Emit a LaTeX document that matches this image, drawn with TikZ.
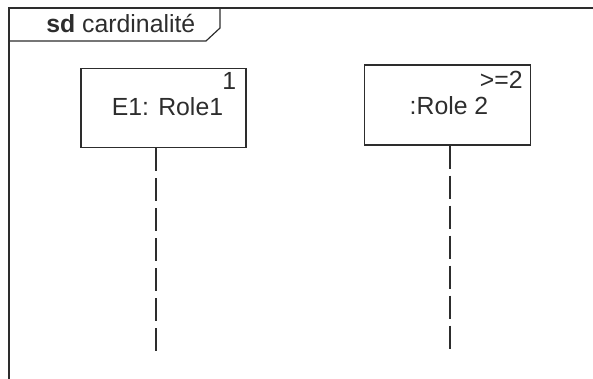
\documentclass[tikz,border=0pt]{standalone}
\usepackage{fontspec}
\setmainfont{Liberation Sans}
\usepackage{tikz}
\usetikzlibrary{positioning}
\definecolor{ink}{RGB}{45,45,45}

\begin{document}
\begin{tikzpicture}[x=0.5pt,y=-0.5pt,font=\fontsize{12.4}{14}\selectfont,ink]
  \useasboundingbox (0,0) rectangle (593,379);
  \draw[line width=0.6pt] (593,8)--(9,8)--(9,379);
  \draw[line width=0.6pt] (9,41)--(206,41)--(220,28)--(220,8);
  \node[anchor=base west,inner sep=0] (T) at (46,33) {\textbf{sd} cardinalité};
  \node[draw,line width=0.6pt,minimum width=82.5pt,minimum height=39.5pt,inner sep=0] (R1) at (163.5,108) {};
  \node[draw,line width=0.6pt,minimum width=83pt,minimum height=40pt,inner sep=0] (R2) at (447.5,105) {};
  \node[anchor=base,inner sep=0] (L1) at (167.5,116) {E1: Role1};
  \node[anchor=base,inner sep=0] (L2) at (449,114.5) {:Role 2};
  \node[anchor=base east,inner sep=0] (M1) at (236.5,90) {1};
  \node[anchor=base east,inner sep=0] (M2) at (523,89) {>=2};
  \coordinate (S1) at ([xshift=-3.75pt]R1.south);
  \coordinate (S2) at ([xshift=1.25pt]R2.south);
  \coordinate (E1) at (S1 |- 0,352);
  \coordinate (E2) at (S2 |- 0,350);
  \draw[line width=0.6pt,dash pattern=on 11.5pt off 3.5pt] (S1)--(E1);
  \draw[line width=0.6pt,dash pattern=on 11.5pt off 3.5pt] (S2)--(E2);
\end{tikzpicture}
\end{document}
